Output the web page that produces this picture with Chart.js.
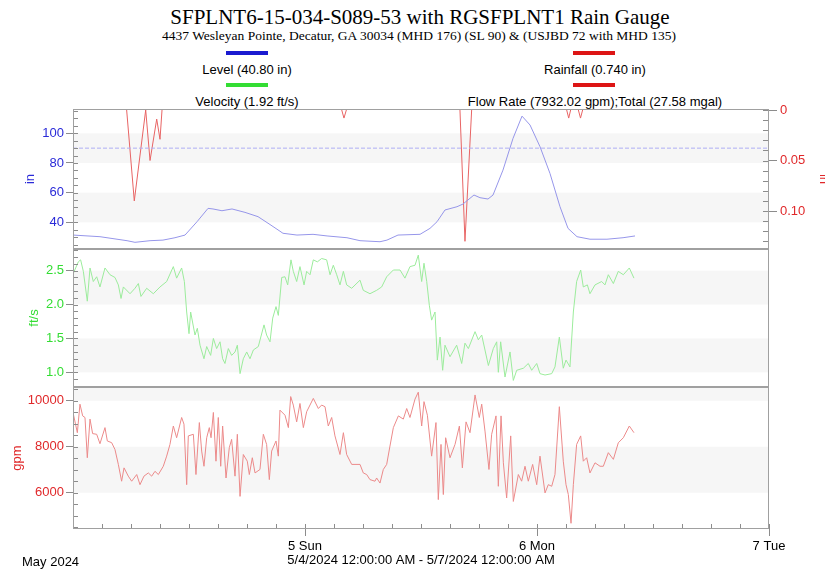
<!DOCTYPE html>
<html>
<head>
<meta charset="utf-8">
<script src="https://cdn.jsdelivr.net/npm/chart.js@4.4.1/dist/chart.umd.min.js"></script>
<style>
html,body{margin:0;padding:0;background:#fff;}
#wrap{position:relative;width:825px;height:572px;overflow:hidden;font-family:'Liberation Sans',Arial,sans-serif;color:#000;}
canvas{position:absolute;left:0;}
.t{position:absolute;white-space:nowrap;text-align:center;line-height:1;}
.sw{position:absolute;height:4px;width:42px;}
</style>
</head>
<body>
<div id="wrap">
  <div class="t" style="left:0;width:840px;top:7px;font-family:'Liberation Serif',serif;font-size:21px;">SFPLNT6-15-034-S089-53 with RGSFPLNT1 Rain Gauge</div>
  <div class="t" style="left:0;width:838px;top:29px;font-family:'Liberation Serif',serif;font-size:13.5px;">4437 Wesleyan Pointe, Decatur, GA 30034 (MHD 176) (SL 90) &amp; (USJBD 72 with MHD 135)</div>

  <div class="sw" style="left:226px;top:51px;background:#1a1ad0;"></div>
  <div class="t" style="left:147px;width:200px;top:63px;font-size:13px;">Level (40.80 in)</div>
  <div class="sw" style="left:226px;top:83px;background:#33dd33;"></div>
  <div class="t" style="left:147px;width:200px;top:95px;font-size:13px;">Velocity (1.92 ft/s)</div>

  <div class="sw" style="left:573px;top:51px;background:#dd1515;"></div>
  <div class="t" style="left:445px;width:300px;top:63px;font-size:13px;">Rainfall (0.740 in)</div>
  <div class="sw" style="left:573px;top:83px;background:#dd1515;"></div>
  <div class="t" style="left:445px;width:300px;top:95px;font-size:13px;">Flow Rate (7932.02 gpm);Total (27.58 mgal)</div>

  <canvas id="c1" width="825" height="156" style="top:100px"></canvas>
  <canvas id="c2" width="825" height="156" style="top:240px"></canvas>
  <canvas id="c3" width="825" height="194" style="top:378px"></canvas>

  <div class="t" style="left:22px;top:555px;font-size:13px;text-align:left;">May 2024</div>
</div>
<script>
// ---------- data (x = hours after 5/4/2024 12:00 AM) ----------
const dayTicks = [0, 24, 48, 72];
const dayLabels = ['', '5 Sun', '6 Mon', '7 Tue'];
const levelTicks = [40, 60, 80, 100];
const velTicks = [1.0, 1.5, 2.0, 2.5];
const flowTicks = [6000, 8000, 10000];
const rainTicks = [0, 0.05, 0.10];
const levelRef = 90;
const dateRange = '5/4/2024 12:00:00 AM - 5/7/2024 12:00:00 AM';

const levelHours = [0,2.79,5.59,6.41,7.97,9.31,10.55,11.59,12.83,13.97,14.48,15.41,16.45,17.79,19.14,20.38,21.41,21.72,23.17,24.83,26.28,28.34,29.69,31.76,32.48,33.62,35.9,36.93,37.66,38.48,39.72,40.34,41.48,42.1,42.93,43.45,44.48,45.52,46.45,47.28,48.31,49.34,50.38,51.21,52.14,53.48,55.24,56.9,58.14];
const levelIn = [31.4,30.3,27.6,26.5,27.6,28,29.6,31.4,40.4,49.4,49,47.8,49,46.7,43.8,38.5,34,32.6,31.4,31.9,30.8,29.6,27.6,26.9,28,31.4,31.9,35.9,40.4,48.3,50.5,52.3,58.4,56.6,55.7,58.4,75.2,96.6,111.6,105.6,91,73,50.5,35.9,30.3,28.6,28.6,29.6,30.8];

const velHours = [0,0.55,0.79,1.07,1.48,1.76,2.1,2.45,2.79,3.31,3.83,4.34,4.69,4.97,5.21,5.9,6.41,6.76,7.03,7.62,8.31,9,9.69,10.38,10.72,11.24,11.52,11.76,12,12.17,12.62,12.86,13.14,13.55,13.83,14.24,14.52,14.86,15.21,15.48,15.72,16.07,16.41,16.76,17,17.28,17.62,17.97,18.31,18.66,19.17,19.76,20.03,20.38,20.66,21,21.24,21.59,21.93,22.21,22.55,22.79,23.14,23.48,23.9,24.17,24.52,24.86,25.28,25.72,26.24,26.59,26.93,27.28,27.62,27.97,28.31,28.83,29.69,30.03,30.72,31.41,31.93,32.45,33.14,33.83,34.34,34.86,35.38,35.72,36.07,36.31,36.59,36.86,37.1,37.45,37.69,37.97,38.24,38.48,39,39.69,40.21,40.55,40.9,41.59,41.93,42.28,42.97,43.48,43.83,44,44.24,44.69,45.21,45.55,45.9,46.59,47.1,47.45,47.97,48.31,48.83,49.52,49.86,50.31,50.72,51,51.41,51.76,52.1,52.52,52.79,53.21,53.48,54,54.69,55.03,55.38,55.9,56.41,56.93,57.55,58.03];
const velFts = [2.45,2.63,2.66,2.49,2.05,2.54,2.34,2.41,2.26,2.54,2.44,2.4,2.29,2.09,2.26,2.16,2.24,2.31,2.12,2.24,2.16,2.26,2.34,2.56,2.39,2.54,2.34,1.89,1.57,1.89,1.55,1.65,1.4,1.2,1.38,1.25,1.5,1.35,1.45,1.2,1.13,1.35,1.25,1.3,1.4,0.98,1.2,1.3,1.2,1.33,1.38,1.7,1.55,1.45,1.8,1.97,1.84,2.4,2.41,2.29,2.66,2.49,2.34,2.56,2.29,2.49,2.44,2.66,2.63,2.68,2.66,2.44,2.58,2.44,2.29,2.49,2.29,2.24,2.36,2.21,2.16,2.21,2.26,2.41,2.51,2.51,2.39,2.56,2.58,2.73,2.34,2.61,2.34,1.99,1.77,1.89,1.18,1.52,1.03,1.4,1.23,1.4,1.13,1.43,1.35,1.6,1.48,1.55,1.1,1.35,1.45,1,1.45,0.93,1.3,0.88,1.03,1.06,1.13,1.03,1.13,0.98,0.96,0.98,1.08,1.52,1.06,1.18,1.08,1.89,2.34,2.51,2.26,2.29,2.16,2.29,2.34,2.29,2.44,2.31,2.49,2.44,2.54,2.39];

const flowHours = [0,0.45,0.72,1,1.24,1.48,1.76,2.03,2.45,2.79,3.31,3.55,4,4.34,4.69,5.03,5.28,5.72,6.07,6.59,6.93,7.34,7.79,8.14,8.48,8.83,9.34,9.69,10.03,10.38,10.72,11.24,11.48,11.76,11.93,12.45,12.72,13.07,13.31,13.55,13.83,14.1,14.28,14.52,14.79,15.03,15.28,15.48,15.83,16.17,16.41,16.76,17,17.28,17.62,18.03,18.24,18.55,18.83,19.34,19.69,20.03,20.31,20.55,21,21.24,21.41,21.93,22.28,22.52,22.79,23.14,23.48,23.83,24.17,24.86,25.38,25.72,26.07,26.41,26.76,27.1,27.62,27.97,28.31,28.83,29.69,30.03,30.38,30.72,31.24,31.41,31.76,32.1,32.45,32.79,33.14,33.66,34.17,34.52,34.86,35.38,35.72,36.07,36.31,36.66,37.1,37.55,37.79,38.07,38.31,38.55,39,39.52,39.97,40.28,40.66,41.07,41.59,42.03,42.28,42.62,43.03,43.31,43.76,44,44.28,44.52,44.86,45.28,45.55,46.07,46.41,46.76,47.1,47.55,47.97,48.31,48.83,49.17,49.52,49.86,50.31,50.72,51,51.24,51.52,51.76,52.1,52.52,52.79,53.14,53.48,54,54.52,54.86,55.38,55.9,56.41,56.93,57.55,58.03];
const flowGpm = [9490,8610,9850,9340,9270,7520,9200,8570,8540,8130,8830,8250,8175,7880,7230,6500,7080,6720,6500,6790,6350,6720,6860,6720,6930,6790,7150,7590,8100,8900,8390,9270,8980,6350,8470,8540,6790,9050,7810,7150,8390,8830,8390,9490,7370,9270,7150,8900,6640,7960,8320,6720,8540,5840,7660,7370,6790,7520,6860,7010,8540,8100,6570,7810,8250,7590,9590,9370,8830,10180,9810,9080,9880,8830,9520,10100,9660,9810,9740,8900,9270,8470,7660,8610,7660,7230,7230,6860,6790,6570,6500,6640,6420,7010,7230,8030,8830,9340,9200,9660,9270,10070,10370,8900,9960,9370,7590,9050,5700,8100,5920,8390,7520,8100,8900,7080,9080,8610,10250,9270,9850,8680,7010,8540,9340,6280,9340,7300,5770,8470,5620,6790,6500,7150,6500,7230,6350,7590,5990,6350,6280,6790,9740,7370,6350,5920,4670,6350,8100,8470,7370,7520,6860,7300,7150,7150,7740,7450,8170,8390,8900,8610];

const rainHours = [5.55,6.34,7.52,7.97,8.66,9.0,9.21,9.5,27.8,28.03,28.28,28.5,40.03,40.55,41.24,41.5,51.07,51.28,51.48,51.8,52.28,52.5,52.72];
const rainIn = [0,0.09,0,0.05,0.009,0.029,0,null,0,0.008,0,null,0,0.13,0,null,0,0.008,0,null,0,0.008,0];

// ---------- styling ----------
const FAMILY = "'Liberation Sans', Arial, sans-serif";
Chart.defaults.font.family = FAMILY;
Chart.defaults.font.size = 13;
const BLUE = '#2a2ad8', GREEN = '#33dd33', RED = '#e0282a';
const AXIS_GRAY = '#8c8c8c';

function pts(hs, vs) {
  const n = Math.min(hs.length, vs.length);
  const out = [];
  for (let i = 0; i < n; i++) out.push({x: hs[i], y: vs[i]});
  return out;
}

const panelPlugin = {
  id: 'panel',
  beforeDatasetsDraw(chart, args, opts) {
    const {ctx, chartArea: a} = chart;
    const s = chart.scales[opts.bandAxis];
    const tk = opts.bandTicks;
    ctx.save();
    ctx.fillStyle = '#f6f6f6';
    for (let i = 0; i < tk.length; i += 2) {
      const lo = tk[i];
      const hi = i + 1 < tk.length ? tk[i + 1] : s.max;
      const p1 = s.getPixelForValue(hi), p2 = s.getPixelForValue(lo);
      const top = Math.max(a.top, Math.min(p1, p2));
      const bot = Math.min(a.bottom, Math.max(p1, p2));
      ctx.fillRect(a.left, top, a.right - a.left, bot - top);
    }
    ctx.restore();
  },
  afterDatasetsDraw(chart, args, opts) {
    const {ctx, chartArea: a} = chart;
    ctx.save();
    ctx.lineWidth = 1;
    ctx.strokeStyle = AXIS_GRAY;
    ctx.beginPath();
    (opts.minor || []).forEach(m => {
      const s = chart.scales[m.axis];
      const lo = Math.min(s.min, s.max), hi = Math.max(s.min, s.max);
      for (let k = Math.ceil(lo / m.step - 1e-6); k * m.step <= hi + 1e-9; k++) {
        const p = Math.round(s.getPixelForValue(k * m.step)) + 0.5;
        if (m.side === 'left') { ctx.moveTo(a.left, p); ctx.lineTo(a.left + m.len, p); }
        else if (m.side === 'right') { ctx.moveTo(a.right, p); ctx.lineTo(a.right - m.len, p); }
        else { ctx.moveTo(p, a.bottom); ctx.lineTo(p, a.bottom - m.len); }
      }
    });
    ctx.stroke();
    ctx.strokeStyle = '#a0a0a0';
    ctx.strokeRect(a.left + 0.5, a.top + 0.5, a.right - a.left - 1, a.bottom - a.top - 1);
    ctx.restore();
  }
};

function leftAxis(color, title, min, max, tickVals, fmt, titlePad) {
  return {
    position: 'left', min, max,
    afterFit: s => { s.width = 73; s.paddingTop = 0; s.paddingBottom = 0; },
    afterBuildTicks: s => { s.ticks = tickVals.map(v => ({value: v})); },
    grid: {drawOnChartArea: false, drawTicks: true, tickLength: 7, color: AXIS_GRAY},
    border: {display: false},
    ticks: {color, padding: 2, font: {size: 13}, callback: fmt},
    title: {display: true, text: title, color, font: {size: 13}, padding: {top: titlePad, bottom: 0}}
  };
}

const hiddenX = {type: 'linear', min: 0, max: 72, display: false};

function commonOpts(pad, scales, panel) {
  return {
    responsive: false, maintainAspectRatio: false, animation: false, events: [],
    layout: {padding: pad},
    elements: {point: {radius: 0}, line: {borderWidth: 1, tension: 0}},
    plugins: {legend: {display: false}, tooltip: {enabled: false}, panel},
    scales
  };
}

// ---------- top panel: level + rainfall ----------
new Chart(document.getElementById('c1'), {
  type: 'line',
  data: {datasets: [
    {data: pts([0, 72], [levelRef, levelRef]), yAxisID: 'yLevel', borderColor: '#aeaef4', borderDash: [4, 2], borderWidth: 1},
    {data: pts(levelHours, levelIn), yAxisID: 'yLevel', borderColor: '#9696ea', borderWidth: 1},
    {data: pts(rainHours, rainIn), yAxisID: 'yRain', borderColor: '#e86464', borderWidth: 1, spanGaps: false}
  ]},
  options: commonOpts({top: 9, bottom: 7, left: 0, right: 0}, {
    x: hiddenX,
    yLevel: leftAxis(BLUE, 'in', 22, 116.4, levelTicks, v => String(v), 23),
    yRain: {
      position: 'right', reverse: true, min: -0.001, max: 0.1376,
      afterFit: s => { s.width = 56; s.paddingTop = 0; s.paddingBottom = 0; },
      afterBuildTicks: s => { s.ticks = rainTicks.map(v => ({value: v})); },
      grid: {drawOnChartArea: false, drawTicks: true, tickLength: 8, color: AXIS_GRAY},
      border: {display: false},
      ticks: {color: RED, padding: 3, font: {size: 13}, callback: v => v === 0 ? '0' : v.toFixed(2)},
      title: {display: true, text: 'in', color: RED, font: {size: 13}, padding: {top: -6, bottom: 0}}
    }
  }, {bandAxis: 'yLevel', bandTicks: levelTicks, minor: [
    {axis: 'yLevel', step: 5, len: 5, side: 'left'},
    {axis: 'yRain', step: 0.01, len: 6, side: 'right'}
  ]}),
  plugins: [panelPlugin]
});

// ---------- middle panel: velocity ----------
new Chart(document.getElementById('c2'), {
  type: 'line',
  data: {datasets: [
    {data: pts(velHours, velFts), yAxisID: 'yVel', borderColor: '#9cec9c', borderWidth: 1}
  ]},
  options: commonOpts({top: 9, bottom: 9, left: 0, right: 56}, {
    x: hiddenX,
    yVel: leftAxis(GREEN, 'ft/s', 0.783, 2.82, velTicks, v => v.toFixed(1), 27)
  }, {bandAxis: 'yVel', bandTicks: velTicks, minor: [
    {axis: 'yVel', step: 0.1, len: 5, side: 'left'}
  ]}),
  plugins: [panelPlugin]
});

// ---------- bottom panel: flow ----------
new Chart(document.getElementById('c3'), {
  type: 'line',
  data: {datasets: [
    {data: pts(flowHours, flowGpm), yAxisID: 'yFlow', borderColor: '#ec8a8a', borderWidth: 1}
  ]},
  options: commonOpts({top: 9, bottom: 0, left: 0, right: 56}, {
    x: {
      type: 'linear', min: 0, max: 72, position: 'bottom',
      afterFit: s => { s.height = 43; s.paddingLeft = 0; s.paddingRight = 0; },
      afterBuildTicks: s => { s.ticks = dayTicks.map(v => ({value: v})); },
      grid: {drawOnChartArea: false, drawTicks: true, tickLength: 7,
             color: c => (c.index === 0 ? 'rgba(0,0,0,0)' : AXIS_GRAY)},
      border: {display: false},
      ticks: {autoSkip: false, maxRotation: 0, color: '#000', padding: 3, font: {size: 13},
              callback: (v, i) => dayLabels[i]},
      title: {display: true, text: dateRange, color: '#000', font: {size: 13}, padding: {top: 0, bottom: 4}}
    },
    yFlow: leftAxis(RED, 'gpm', 4422, 10596, flowTicks, v => String(v), 10)
  }, {bandAxis: 'yFlow', bandTicks: flowTicks, minor: [
    {axis: 'yFlow', step: 500, len: 5, side: 'left'},
    {axis: 'x', step: 3, len: 5, side: 'bottom'}
  ]}),
  plugins: [panelPlugin]
});
</script>
</body>
</html>
